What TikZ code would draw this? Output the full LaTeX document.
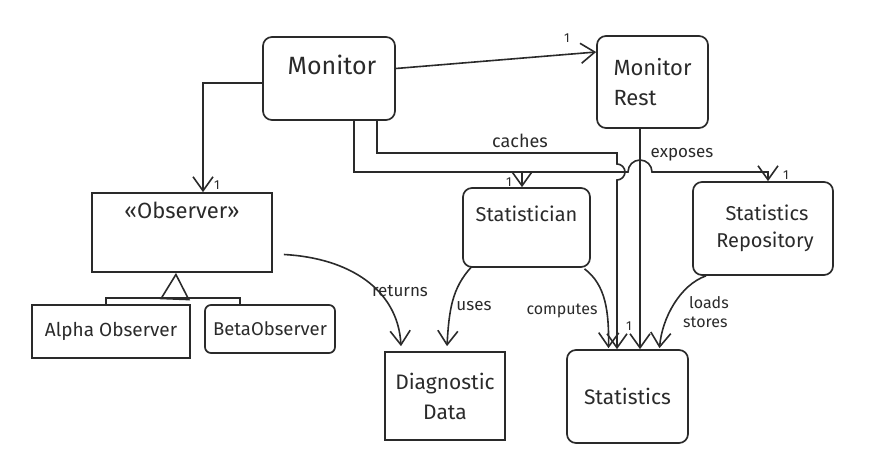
\documentclass[tikz,border=0pt]{standalone}
\usepackage{fontspec}
\setmainfont{Fira Sans}
\usetikzlibrary{arrows.meta,calc}
\definecolor{ink}{HTML}{2A2A2A}
\tikzset{
  box/.style={draw=ink, line width=1.7pt, align=center, inner sep=0pt, text=ink, font=\fontsize{20}{24}\selectfont},
  rbox/.style={box, rounded corners=9pt},
  conn/.style={draw=ink, line width=1.6pt},
  arr/.style={conn, -{Straight Barb[length=14pt,width=20pt]}},
  gen/.style={conn, -{Triangle[open,length=27pt,width=30pt]}},
  lbl/.style={text=ink, font=\fontsize{17}{19}\selectfont, inner sep=1pt},
  mult/.style={text=ink, font=\fontsize{13}{15}\selectfont, inner sep=0pt}
}
\begin{document}
\begin{tikzpicture}[x=1pt,y=-1pt]
\useasboundingbox (0,0) rectangle (875,476);
% boxes
\node[rbox, minimum width=132pt, minimum height=83pt, font=\fontsize{25}{30}\selectfont] (monitor) at (329,78.5) {\raisebox{4pt}[0pt][0pt]{\hspace{6pt}Monitor}};
\node[rbox, minimum width=111pt, minimum height=92pt, align=left, font=\fontsize{22}{30}\selectfont] (rest) at (652.5,82) {Monitor\\Rest};
\node[box, minimum width=180pt, minimum height=79pt, font=\fontsize{22}{26}\selectfont] (observer) at (182,232.5) {\raisebox{14pt}[0pt][0pt]{«Observer»}};
\node[box, minimum width=158pt, minimum height=53pt, font=\fontsize{19}{22}\selectfont] (alpha) at (111,331.5) {Alpha Observer};
\node[rbox, rounded corners=6pt, minimum width=130pt, minimum height=48pt, font=\fontsize{18.5}{22}\selectfont] (beta) at (270,329) {BetaObserver};
\node[rbox, minimum width=127pt, minimum height=79pt] (statistician) at (526.5,227.5) {\raisebox{6pt}[0pt][0pt]{Statistician}};
\node[rbox, minimum width=140pt, minimum height=93pt, font=\fontsize{20}{27}\selectfont] (repo) at (763,228.5) {\hspace{8pt}Statistics\\\hspace{4pt}Repository};
\node[box, minimum width=120pt, minimum height=88pt, font=\fontsize{21}{30}\selectfont] (diag) at (445,396) {Diagnostic\\Data};
\node[rbox, minimum width=121pt, minimum height=93pt, font=\fontsize{21}{25}\selectfont] (stats) at (627.5,396.5) {Statistics};

% Monitor -> Monitor Rest
\draw[arr] ($(monitor.east)+(0,-10)$) -- ($(rest.west)+(0,-30)$);
\node[mult] (m1) at (567,38) {1};

% Monitor -> Observer
\coordinate (mo) at (203,83);
\draw[arr] ($(monitor.west)+(0,4.5)$) -- (mo) -- ($(observer.north)+(21,0)$);
\node[mult] (m2) at (217,185) {1};

% Monitor -> Statistician / Repository (with hop over Monitor Rest line)
\draw[arr] ($(monitor.south)+(25,0)$) -- (354,172) -- (628,172)
   arc[start angle=180, end angle=360, radius=12] -- (768,172) -- ($(repo.north)+(5,0)$);
\draw[arr] (522,172) -- ($(statistician.north)+(-4.5,0)$);
\node[mult] (m3) at (509,182) {1};
\node[mult] (m4) at (786,175) {1};

% Monitor caches Statistics (with hop)
\draw[arr] ($(monitor.south)+(48,0)$) -- (377,153) -- (617,153) -- (617,164)
   arc[start angle=270, end angle=450, radius=8] -- ($(stats.north)+(-10.5,0)$);
\node[lbl, font=\fontsize{18}{20}\selectfont] (caches) at (520,141) {caches};
\node[mult] (m5) at (629,326) {1};

% Monitor Rest exposes Statistics
\draw[arr] ($(rest.south)+(-12.5,0)$) -- ($(stats.north)+(12.5,0)$);
\node[lbl] (exposes) at (682,155) {exposes};

% Observer returns Diagnostic Data
\draw[arr] ($(observer.east)+(11,22)$) .. controls (350,258) and (398,290) .. ($(diag.north)+(-44,-5)$);
\node[lbl] (returns) at (400,291) {returns};

% Statistician uses Diagnostic Data
\draw[arr] ($(statistician.south)+(-55,-1)$) .. controls (452,288) and (449,310) .. ($(diag.north)+(2,-5)$);
\node[lbl] (uses) at (474,306) {uses};

% Statistician computes Statistics
\draw[arr] ($(statistician.south)+(58,1)$) .. controls (606,285) and (609,312) .. ($(stats.north)+(-19,-1)$);
\node[lbl, font=\fontsize{16}{18}\selectfont] (computes) at (562,311) {computes};

% Repository loads/stores Statistics
\draw[arr] ($(repo.south)+(-57,0)$) .. controls (680,285) and (662,318) .. ($(stats.north)+(32,-1)$);
\node[lbl, align=left, font=\fontsize{16}{19}\selectfont] (loads) at (706,312) {\hspace{6pt}loads\\stores};

% Generalisation
\coordinate (gj) at (175,298);
\draw[gen] (gj) -- ($(observer.south)+(-6,0)$);
\draw[conn] ($(alpha.north)+(-5,0)$) -- (106,298) -- (240,298) -- ($(beta.north)+(-30,0)$);
\end{tikzpicture}
\end{document}
